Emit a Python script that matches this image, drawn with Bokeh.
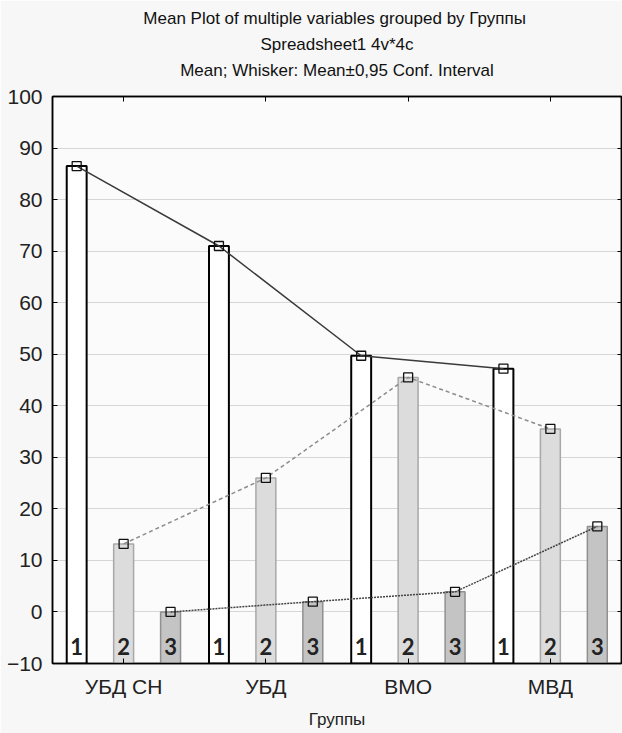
from bokeh.plotting import figure
from bokeh.models import (FactorRange, Range1d, FixedTicker, LinearAxis,
                          CategoricalAxis, Title, ColumnDataSource)
from bokeh.transform import dodge
from bokeh.core.properties import value
from bokeh.embed import file_html
from bokeh.resources import INLINE

groups = ["УБД СН", "УБД", "ВМО", "МВД"]
series_labels = ["1", "2", "3"]
series1 = [86.5, 71.0, 49.7, 47.2]
series2 = [13.2, 26.0, 45.5, 35.5]
series3 = [0.0, 2.0, 3.9, 16.6]
y_ticks = [-10, 0, 10, 20, 30, 40, 50, 60, 70, 80, 90, 100]
title_lines = ["Mean Plot of multiple variables grouped by  Группы",
               "Spreadsheet1 4v*4c",
               "Mean; Whisker: Mean\u00b10,95 Conf. Interval"]
x_label = "Группы"

src = ColumnDataSource(dict(g=groups, s1=series1, s2=series2, s3=series3,
                            l1=[series_labels[0]] * 4,
                            l2=[series_labels[1]] * 4,
                            l3=[series_labels[2]] * 4))

p = figure(x_range=FactorRange(factors=groups, range_padding=0),
           y_range=Range1d(-10, 100),
           frame_width=569, frame_height=567,
           min_border_left=52, min_border_right=1,
           min_border_top=96, min_border_bottom=70,
           output_backend="svg", toolbar_location=None,
           background_fill_color="#fbfbfb", border_fill_color="#f7f7f7",
           outline_line_color="black", outline_line_width=1.5)

p.xgrid.visible = False
p.ygrid.grid_line_color = "#d6d6d6"
p.ygrid.grid_line_width = 1.2
p.ygrid.ticker = FixedTicker(ticks=y_ticks)

p.yaxis.ticker = FixedTicker(ticks=y_ticks)
p.yaxis.major_label_text_font = "Liberation Sans"
p.yaxis.major_label_text_font_size = "21px"
p.yaxis.major_label_text_color = "#222222"
p.yaxis.major_tick_in = 5
p.yaxis.major_tick_out = 0
p.yaxis.minor_tick_line_color = None
p.yaxis.major_label_standoff = 10
p.yaxis.axis_line_width = 1.5

p.xaxis.major_label_text_font = "Liberation Sans"
p.xaxis.major_label_text_font_size = "21px"
p.xaxis.major_label_text_color = "#222222"
p.xaxis.major_tick_in = 5
p.xaxis.major_tick_out = 0
p.xaxis.major_label_standoff = 11
p.xaxis.axis_line_width = 1.5
p.xaxis.axis_label = x_label
p.xaxis.axis_label_text_font = "Liberation Sans"
p.xaxis.axis_label_text_font_size = "17px"
p.xaxis.axis_label_text_font_style = "normal"
p.xaxis.axis_label_text_color = "#222222"
p.xaxis.axis_label_standoff = 9

top_axis = CategoricalAxis(major_label_text_font_size="2px",
                           major_label_text_color=None, major_tick_in=5,
                           major_tick_out=0, major_label_standoff=0,
                           axis_line_width=1.5)
p.add_layout(top_axis, "above")
spacer = CategoricalAxis(major_label_text_font_size="2px",
                         major_label_text_color=None, axis_line_color=None,
                         major_tick_line_color=None, major_tick_in=0,
                         major_tick_out=14, major_label_standoff=0)
p.add_layout(spacer, "above")
right_axis = LinearAxis(ticker=FixedTicker(ticks=y_ticks),
                        major_label_text_font_size="2px",
                        major_label_text_color=None, major_tick_in=4,
                        major_tick_out=0, minor_tick_line_color=None,
                        major_label_standoff=0, axis_line_width=1.5)
p.add_layout(right_axis, "right")

off = 0.33
bw = 0.14
p.vbar(x=dodge("g", -off, range=p.x_range), top="s1", bottom=-10, width=bw,
       source=src, fill_color="white", line_color="black", line_width=2)
p.vbar(x=dodge("g", 0, range=p.x_range), top="s2", bottom=-10, width=bw,
       source=src, fill_color="#dcdcdc", line_color="#a8a8a8", line_width=1.5)
p.vbar(x=dodge("g", off, range=p.x_range), top="s3", bottom=-10, width=bw,
       source=src, fill_color="#c4c4c4", line_color="#909090", line_width=1.5)

p.line(x=dodge("g", -off, range=p.x_range), y="s1", source=src,
       line_color="#3a3a3a", line_width=1.5)
p.line(x=dodge("g", 0, range=p.x_range), y="s2", source=src,
       line_color="#8c8c8c", line_width=1.5, line_dash="4 3")
p.line(x=dodge("g", off, range=p.x_range), y="s3", source=src,
       line_color="#444444", line_width=1.5, line_dash="2 1")

for o, col in [(-off, "s1"), (0, "s2"), (off, "s3")]:
    p.scatter(x=dodge("g", o, range=p.x_range), y=col, source=src,
              marker="square", size=9, fill_alpha=0,
              line_color="#111111", line_width=1.3)

for o, col in [(-off, "l1"), (0, "l2"), (off, "l3")]:
    p.text(x=dodge("g", o, range=p.x_range), y=-10, text=col, source=src,
           text_align="center", text_baseline="bottom", y_offset=-9,
           text_font=value("Lato"), text_font_style="bold",
           text_font_size="22px", text_color="#222222")

for i in [2, 1, 0]:
    p.add_layout(Title(text=title_lines[i], align="center",
                       text_font="Liberation Sans", text_font_size="17px",
                       text_font_style="normal", text_color="#111111",
                       standoff=5), "above")

open("out.html", "w").write(file_html(p, INLINE))
